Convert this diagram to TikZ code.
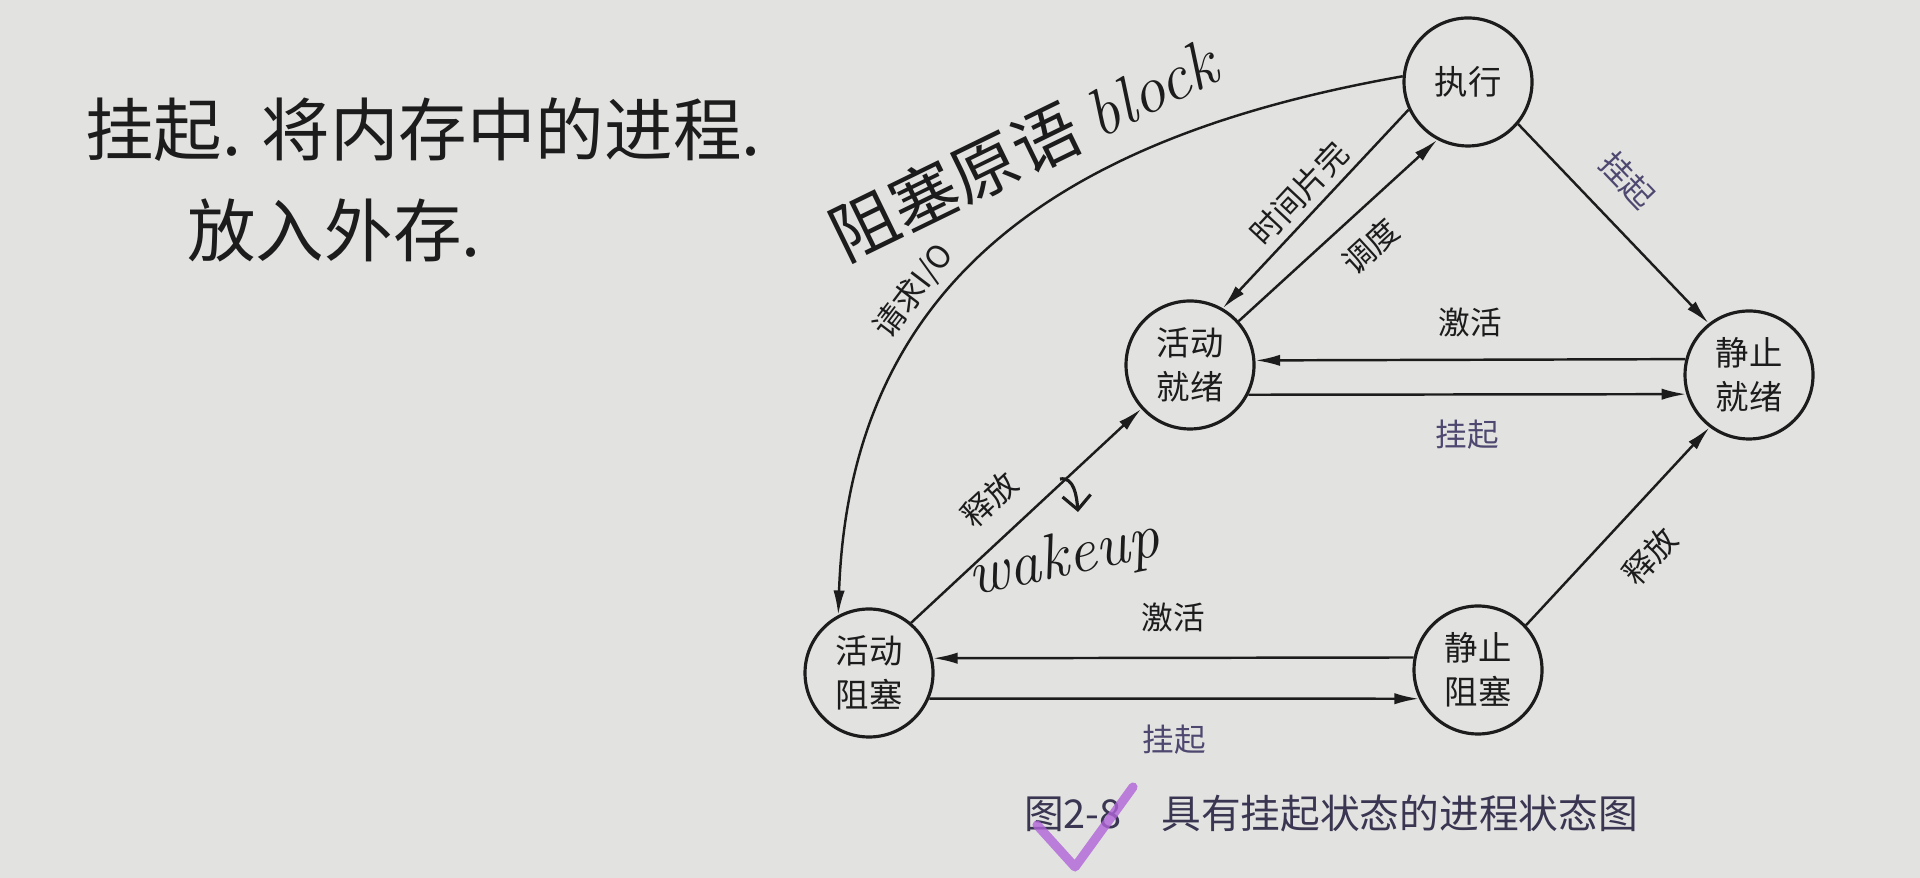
\documentclass[tikz,border=0pt]{standalone}
\usepackage{fontspec}
\newfontfamily\cjk{Noto Sans CJK SC}
\usetikzlibrary{arrows.meta}
\definecolor{pagebg}{RGB}{226,227,225}
\definecolor{ink}{RGB}{28,28,28}
\definecolor{hangcol}{RGB}{78,72,112}
\definecolor{capcol}{RGB}{58,54,82}
\definecolor{penmark}{RGB}{176,100,216}

\begin{document}
\begin{tikzpicture}[
    state/.style={draw=ink, circle, line width=0.9pt, minimum size=1.28cm, inner sep=0pt, align=center, text=ink, font=\cjk\fontsize{9.5}{12.5}\selectfont},
    trans/.style={->, line width=0.7pt, draw=ink, >={Latex[length=7pt,width=3.2pt]}},
    lbl/.style={text=ink, inner sep=1pt, font=\cjk\fontsize{9}{11}\selectfont},
    hanglbl/.style={lbl, text=hangcol},
    hand/.style={text=ink, inner sep=0pt, font=\cjk\fontsize{19.5}{24}\selectfont},
    handlatin/.style={text=ink, inner sep=0pt, font=\itshape\fontsize{18}{22}\selectfont}
]

\fill[pagebg] (0,0) rectangle (19.2,8.78);
\useasboundingbox (0,0) rectangle (19.2,8.78);

\node[state] (exec)   at (14.68,7.96) {执行};
\node[state] (sready) at (17.49,5.03) {静止\\就绪};
\node[state] (aready) at (11.90,5.13) {活动\\就绪};
\node[state] (ablock) at (8.69,2.05)  {活动\\阻塞};
\node[state] (sblock) at (14.78,2.08) {静止\\阻塞};

% 执行 <-> 活动就绪
\draw[trans] (exec.205) -- node[lbl, sloped, above=1pt] {时间片完} (aready.60);
\draw[trans] (aready.42) -- node[lbl, pos=0.55, sloped, below=4pt] {调度} (exec.242);

% 请求I/O
\draw[trans] (exec.175) to[out=190, in=88, looseness=1.11]
    node[lbl, pos=0.62, sloped, above=2pt] {请求I/O} (ablock.118);

\draw[trans] (exec.-40) -- node[hanglbl, pos=0.42, sloped, above=6pt] {挂起} (sready.128);

% 就绪之间
\draw[trans] (sready.166) -- node[lbl, above=5pt] {激活} (aready.4);
\draw[trans] (aready.-27) -- node[hanglbl, below=6pt] {挂起} (sready.197);

% 阻塞之间
\draw[trans] (sblock.169) -- node[lbl, above=6pt] {激活} (ablock.13);
\draw[trans] (ablock.-23) -- node[hanglbl, below=6pt] {挂起} (sblock.206);

% 释放
\draw[trans] (ablock.50) -- node[lbl, pos=0.45, sloped, above=5pt] {释放} (aready.222);
\draw[trans] (sblock.43) -- node[lbl, sloped, below=7pt] {释放} (sready.233);

% 手写批注
\node[hand] (note1) at (4.23,7.48) {挂起. 将内存中的进程.};
\node[hand] (note2) at (3.34,6.48) {放入外存.};
\node[hand, rotate=26, font=\cjk\fontsize{19}{24}\selectfont] (noteblock) at (10.23,7.30) {阻塞原语\ {\rmfamily\itshape block}};
\node[handlatin, rotate=12] (notewake) at (10.64,3.18) {wakeup};
\coordinate (hookA) at (10.60,3.99);
\coordinate (hookB) at (10.78,3.66);
\draw[->, line width=0.9pt, draw=ink, >={Straight Barb[length=4pt]}] (hookA) to[out=10, in=95] (hookB);

\node[text=capcol, font=\cjk\fontsize{11.3}{13}\selectfont] (caption) at (13.31,0.65) {图2-8\quad 具有挂起状态的进程状态图};
\draw[penmark, line width=2.6pt, line cap=round, line join=round, opacity=0.8] (10.37,0.53) -- (10.75,0.11) -- (11.33,0.91);

\end{tikzpicture}
\end{document}
